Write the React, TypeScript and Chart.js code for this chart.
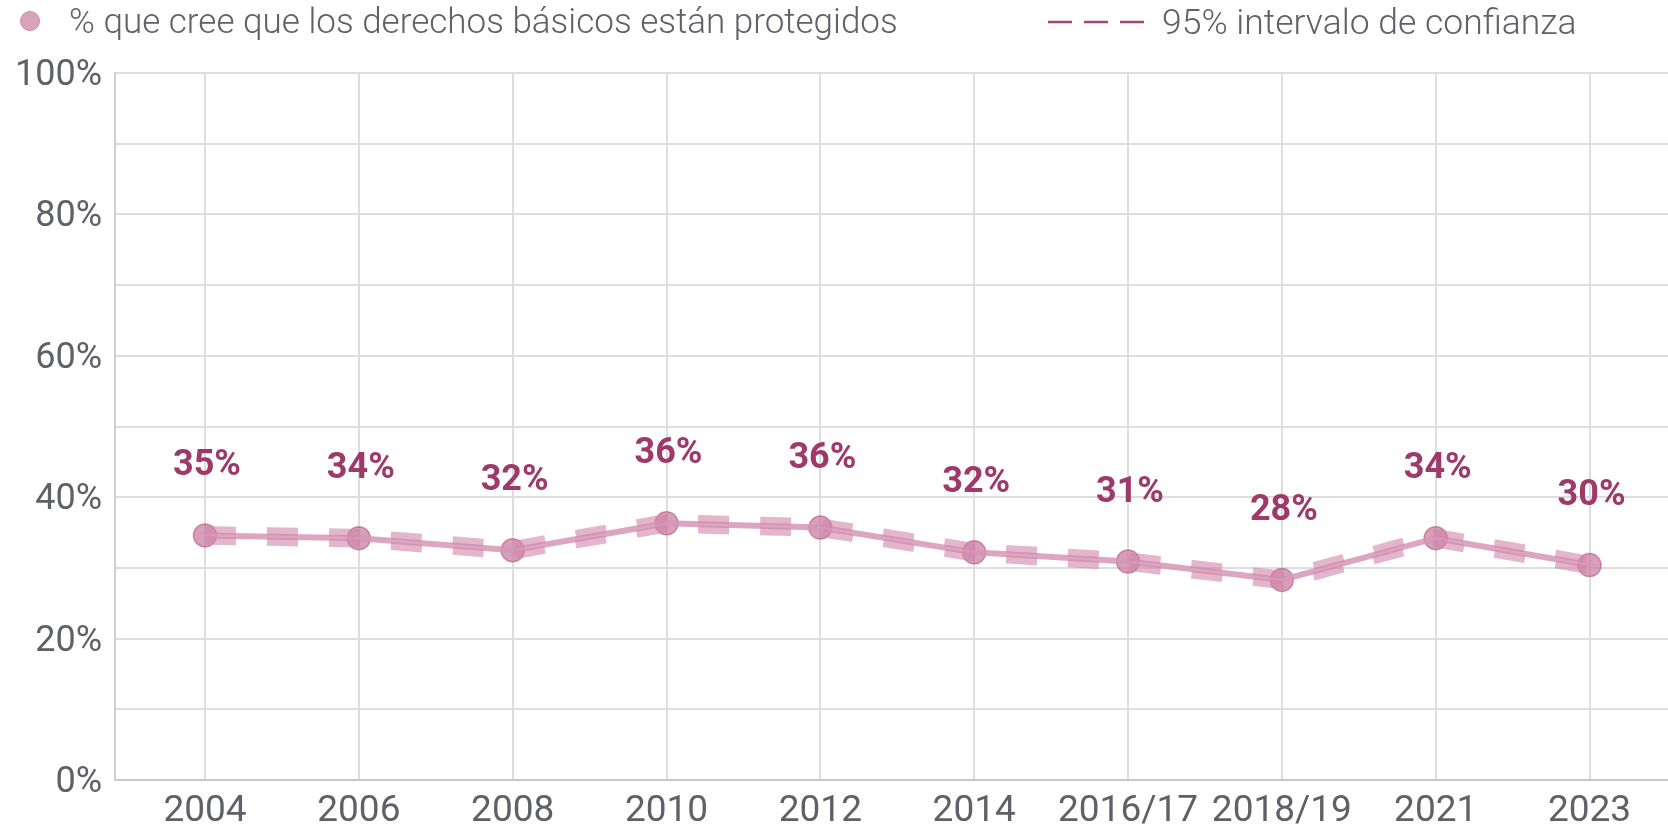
import React, { useEffect, useRef } from 'react';
import { Chart, registerables } from 'chart.js';

Chart.register(...registerables);

const years = ['2004', '2006', '2008', '2010', '2012', '2014', '2016/17', '2018/19', '2021', '2023'];
const share = [34.6, 34.2, 32.5, 36.3, 35.7, 32.2, 30.9, 28.3, 34.2, 30.4];
const ciUpper = [35.35, 34.95, 33.25, 37.05, 36.45, 32.95, 31.65, 29.05, 34.95, 31.15];
const ciLower = [33.85, 33.45, 31.75, 35.55, 34.95, 31.45, 30.15, 27.55, 33.45, 29.65];
const shareLabels = ['35%', '34%', '32%', '36%', '36%', '32%', '31%', '28%', '34%', '30%'];
const yLabelTicks = [0, 20, 40, 60, 80, 100];

const legendMain = '% que cree que los derechos básicos están protegidos';
const legendCI = '95% intervalo de confianza';

const LABEL_COLOR = '#9e3a69';
const TEXT_GRAY = '#5f6068';

const dataLabelPlugin = {
  id: 'pointLabels',
  afterDatasetsDraw(chart: any) {
    const meta = chart.getDatasetMeta(3);
    const ctx = chart.ctx;
    ctx.save();
    ctx.font = 'bold 36px Roboto';
    ctx.fillStyle = LABEL_COLOR;
    ctx.textAlign = 'center';
    ctx.textBaseline = 'middle';
    meta.data.forEach((el: any, i: number) => {
      ctx.fillText(shareLabels[i], el.x + 2, el.y - 69);
    });
    ctx.restore();
  },
};

export default function App() {
  const ref = useRef<HTMLCanvasElement | null>(null);

  useEffect(() => {
    document.body.style.margin = '0';
    const canvas = ref.current;
    if (!canvas) return;
    const pts = (arr: number[]) => arr.map((v, i) => ({ x: i, y: v }));
    const ciStyle = {
      borderColor: 'rgba(208,134,168,0.6)',
      borderWidth: 8,
      borderDash: [31, 31],
      borderCapStyle: 'butt',
      pointRadius: 0,
      fill: false,
      tension: 0,
    };
    const chart = new Chart(canvas, {
      type: 'line',
      data: {
        datasets: [
          { label: 'upper', data: pts(ciUpper), ...ciStyle },
          { label: 'lower', data: pts(ciLower), ...ciStyle },
          {
            label: 'line',
            data: pts(share),
            borderColor: 'rgba(214,150,181,0.85)',
            borderWidth: 6,
            pointRadius: 0,
            fill: false,
            tension: 0,
          },
          {
            label: legendMain,
            data: pts(share),
            borderColor: 'rgba(255,255,255,0.35)',
            borderWidth: 1.2,
            pointRadius: 11.5,
            pointBackgroundColor: 'rgba(200,118,156,0.7)',
            pointBorderColor: 'rgba(178,82,125,0.6)',
            pointBorderWidth: 1.5,
            fill: false,
            tension: 0,
          },
        ],
      },
      options: {
        animation: false,
        responsive: false,
        layout: { autoPadding: false, padding: { top: 73, right: 0, left: 0, bottom: 0 } },
        plugins: {
          legend: { display: false },
          tooltip: { enabled: false },
        },
        scales: {
          x: {
            type: 'linear',
            min: -0.585,
            max: 9.51,
            afterBuildTicks: (axis: any) => {
              axis.ticks = years.map((_, i) => ({ value: i }));
            },
            afterFit: (axis: any) => {
              axis.height = 49;
              axis.paddingLeft = 0;
              axis.paddingRight = 0;
            },
            grid: { color: '#dddddd', lineWidth: 2, drawTicks: false },
            border: { color: '#c9c9c9', width: 2 },
            ticks: {
              padding: 10,
              maxRotation: 0,
              autoSkip: false,
              color: TEXT_GRAY,
              font: { family: 'Roboto', size: 37 },
              callback: (v: any) => years[v as number] ?? '',
            },
          },
          y: {
            min: 0,
            max: 100,
            afterFit: (axis: any) => {
              axis.width = 115;
            },
            grid: { color: '#dddddd', lineWidth: 2, drawTicks: false },
            border: { color: '#d0d0d0', width: 2 },
            ticks: {
              stepSize: 10,
              padding: 13,
              labelOffset: 3,
              color: TEXT_GRAY,
              font: { family: 'Roboto', size: 36 },
              callback: (v: any) => (yLabelTicks.includes(v as number) ? `${v}%` : ''),
            },
          },
        },
      },
      plugins: [dataLabelPlugin],
    } as any);
    return () => chart.destroy();
  }, []);

  return (
    <div style={{ position: 'relative', width: 1668, height: 829, background: '#fff', fontFamily: 'Roboto' }}>
      <canvas ref={ref} width={1668} height={829} style={{ position: 'absolute', left: 0, top: 0 }} />
      <div style={{ position: 'absolute', left: 20, top: 11, width: 20, height: 20, borderRadius: '50%', background: '#d9a2bb', border: '1.5px solid #c98aa6', boxSizing: 'border-box' }} />
      <div style={{ position: 'absolute', left: 69, top: 0, height: 44, lineHeight: '44px', fontSize: 35, fontWeight: 300, color: TEXT_GRAY, whiteSpace: 'nowrap' }}>
        {legendMain}
      </div>
      <svg style={{ position: 'absolute', left: 1046, top: 12 }} width={100} height={20}>
        <line x1={2} y1={10} x2={98} y2={10} stroke="#a5466f" strokeWidth={2.5} strokeDasharray="24 12" />
      </svg>
      <div style={{ position: 'absolute', left: 1162, top: 0, height: 44, lineHeight: '44px', fontSize: 35.5, fontWeight: 300, color: TEXT_GRAY, whiteSpace: 'nowrap' }}>
        {legendCI}
      </div>
    </div>
  );
}
